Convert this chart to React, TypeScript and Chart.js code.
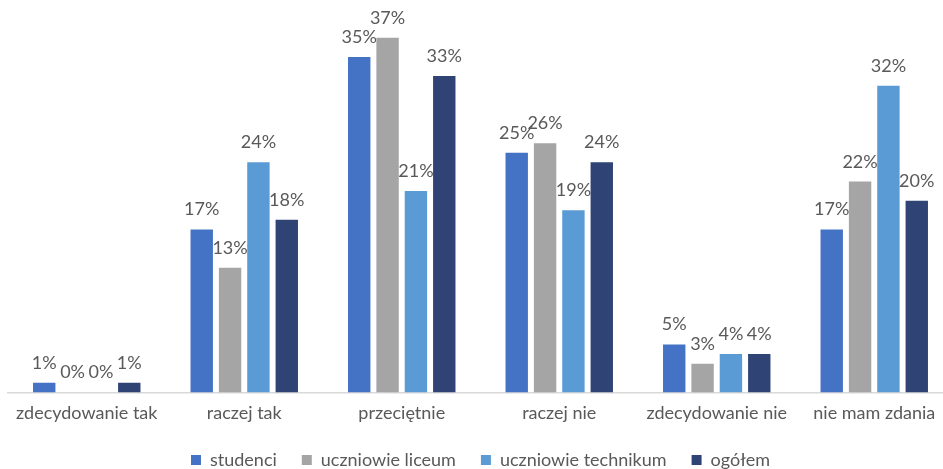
import React, { useEffect, useRef } from "react";
import { Chart, registerables } from "chart.js";

Chart.register(...registerables);

const categories = [
  "zdecydowanie tak",
  "raczej tak",
  "przeciętnie",
  "raczej nie",
  "zdecydowanie nie",
  "nie mam zdania",
];
const studenci = [1, 17, 35, 25, 5, 17];
const uczniowieLiceum = [0, 13, 37, 26, 3, 22];
const uczniowieTechnikum = [0, 24, 21, 19, 4, 32];
const ogolem = [1, 18, 33, 24, 4, 20];

const seriesNames = ["studenci", "uczniowie liceum", "uczniowie technikum", "ogółem"];
const seriesColors = ["#4472C4", "#A5A5A5", "#5B9BD5", "#2F4475"];

const FONT = "Lato";
const TEXT = "#595959";
const FS = 18;

const dataLabels = {
  id: "dataLabels",
  afterDatasetsDraw(chart: any) {
    const ctx = chart.ctx;
    ctx.save();
    ctx.font = `${FS}px ${FONT}`;
    ctx.fillStyle = TEXT;
    ctx.textAlign = "center";
    ctx.textBaseline = "alphabetic";
    chart.data.datasets.forEach((ds: any, i: number) => {
      const meta = chart.getDatasetMeta(i);
      meta.data.forEach((el: any, j: number) => {
        ctx.fillText(`${ds.data[j]}%`, el.x, el.y - 14);
      });
    });
    ctx.restore();
  },
};

export default function App() {
  const ref = useRef<HTMLCanvasElement | null>(null);
  useEffect(() => {
    if (!ref.current) return;
    const values = [studenci, uczniowieLiceum, uczniowieTechnikum, ogolem];
    const chart = new Chart(ref.current, {
      type: "bar",
      data: {
        labels: categories,
        datasets: values.map((d, i) => ({
          label: seriesNames[i],
          data: d,
          backgroundColor: seriesColors[i],
          barPercentage: 0.79,
          categoryPercentage: 0.72,
        })),
      },
      options: {
        animation: false,
        responsive: false,
        maintainAspectRatio: false,
        layout: { padding: { left: 8, right: 7, top: 9, bottom: 0 } },
        scales: {
          x: {
            grid: { display: false },
            border: { color: "#D9D9D9", width: 1.5 },
            ticks: { font: { family: FONT, size: FS }, color: TEXT, padding: 2, maxRotation: 0 },
          },
          y: { display: false, min: 0, max: 40 },
        },
        plugins: {
          legend: {
            position: "bottom",
            labels: {
              font: { family: FONT, size: FS },
              color: TEXT,
              boxWidth: 10,
              boxHeight: 10,
              padding: 25,
            },
          },
          tooltip: { enabled: false },
        },
      },
      plugins: [dataLabels],
    });
    return () => chart.destroy();
  }, []);
  return (
    <div style={{ position: "fixed", left: 0, top: 0, width: 943, height: 469, overflow: "hidden", background: "#fff" }}>
      <canvas ref={ref} width={960} height={479} style={{ display: "block" }} />
    </div>
  );
}
